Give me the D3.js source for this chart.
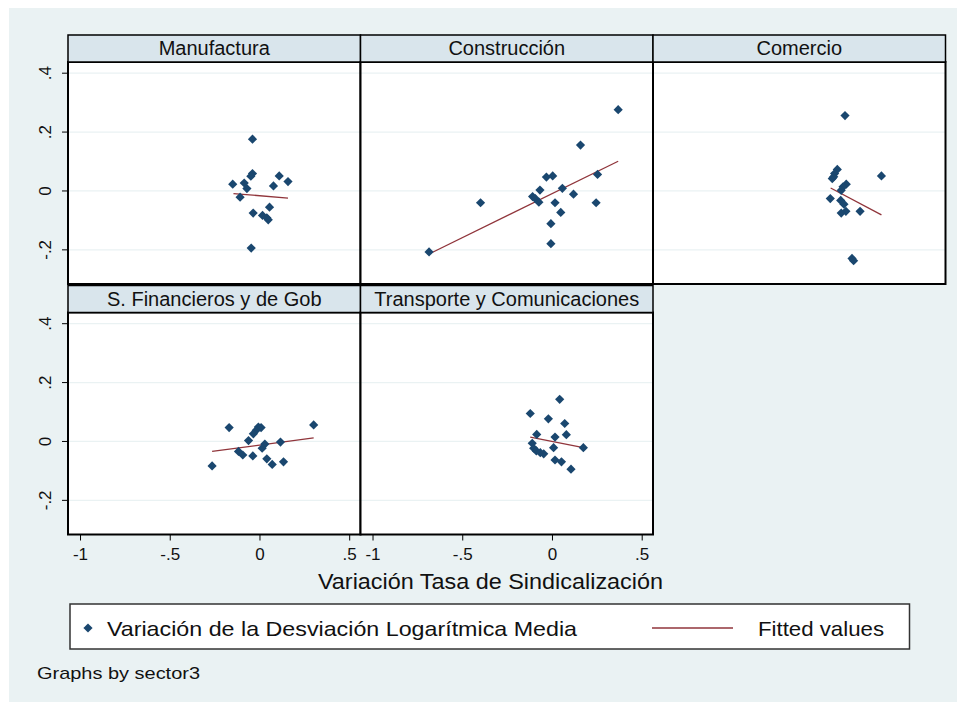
<!DOCTYPE html>
<html>
<head>
<meta charset="utf-8">
<script src="https://cdn.jsdelivr.net/npm/d3@7/dist/d3.min.js"></script>
<style>
  body { margin: 0; background: #fff; }
  text { font-family: "Liberation Sans", Arial, sans-serif; fill: #111; }
</style>
</head>
<body>
<svg id="chart" width="957" height="702"></svg>
<script>
// sector names, in panel order
var sectors = ['Manufactura', 'Construcción', 'Comercio', 'S. Financieros y de Gob', 'Transporte y Comunicaciones'];

// x = variación tasa de sindicalización, y = variación desviación log. media
var manufX = [-0.039, -0.039, -0.048, -0.149, -0.085, -0.070, -0.108, 0.110, 0.159, 0.078, 0.056, -0.035, 0.017, 0.041, 0.049, -0.046];
var manufY = [0.176, 0.059, 0.050, 0.023, 0.027, 0.008, -0.021, 0.051, 0.032, 0.017, -0.055, -0.075, -0.083, -0.091, -0.098, -0.194];

var construX = [0.369, 0.159, 0.254, -0.031, 0.004, -0.067, 0.058, -0.108, -0.093, -0.073, 0.120, -0.398, 0.017, 0.246, 0.049, -0.006, -0.006, -0.685];
var construY = [0.276, 0.156, 0.056, 0.047, 0.051, 0.003, 0.009, -0.019, -0.026, -0.038, -0.011, -0.040, -0.040, -0.040, -0.073, -0.111, -0.179, -0.207];

var comercX = [0.003, -0.040, -0.055, -0.068, -0.060, 0.206, 0.010, -0.008, -0.018, -0.079, -0.021, -0.003, 0.008, -0.018, 0.087, 0.042, 0.051];
var comercY = [0.256, 0.073, 0.059, 0.042, 0.048, 0.051, 0.023, 0.014, 0.002, -0.026, -0.032, -0.045, -0.069, -0.075, -0.069, -0.229, -0.237];

var financX = [-0.169, -0.006, 0.009, -0.018, -0.034, 0.302, -0.061, 0.117, 0.030, 0.015, -0.117, -0.093, -0.037, 0.041, 0.134, 0.071, -0.264];
var financY = [0.047, 0.049, 0.047, 0.038, 0.026, 0.056, 0.003, -0.002, -0.009, -0.023, -0.034, -0.046, -0.049, -0.059, -0.069, -0.078, -0.083];

var transpX = [0.043, -0.121, -0.020, 0.071, 0.080, -0.085, 0.017, -0.110, 0.009, 0.175, -0.102, -0.087, -0.065, -0.046, 0.017, 0.053, 0.106];
var transpY = [0.143, 0.095, 0.077, 0.061, 0.023, 0.024, 0.015, -0.006, -0.021, -0.021, -0.023, -0.032, -0.038, -0.042, -0.063, -0.069, -0.094];

// fitted values: end points [x0, x1] and [y0, y1] per sector
var fitX = [[-0.145, 0.159], [-0.685, 0.369], [-0.077, 0.206], [-0.264, 0.302], [-0.121, 0.175]];
var fitY = [[-0.009, -0.024], [-0.214, 0.101], [0.010, -0.081], [-0.034, 0.012], [0.015, -0.021]];

var xTicks = [-1, -0.5, 0, 0.5];
var yTicks = [0.4, 0.2, 0, -0.2];

var pointsX = [manufX, construX, comercX, financX, transpX];
var pointsY = [manufY, construY, comercY, financY, transpY];

var navy = '#1a476f', maroon = '#90353b', bg = '#eaf2f3';
var colLeft = [68, 360.5, 653], panelW = 292.5;
var headTop = [35, 285.5], headH = 27, plotH = 222;

var stataFmt = function(v) {
  if (v === 0) return '0';
  return String(v).replace('0.', '.');
};

var svg = d3.select('#chart');

svg.append('rect')
    .attr('x', 9).attr('y', 8)
    .attr('width', 948).attr('height', 694)
    .attr('fill', bg);

var x = d3.scaleLinear().domain([-1.067, 0.563]).range([0, panelW]);
var y = d3.scaleLinear().domain([-0.316, 0.438]).range([plotH, 0]);

var diamond = 'M0,-4.6L4.6,0L0,4.6L-4.6,0Z';

sectors.forEach(function(name, i) {
  var col = i % 3, row = Math.floor(i / 3);
  var left = colLeft[col];
  var top = headTop[row] + headH;

  var g = svg.append('g').attr('transform', 'translate(' + left + ',' + top + ')');

  g.append('rect')
      .attr('width', panelW).attr('height', plotH)
      .attr('fill', '#fff');

  g.selectAll('line.grid')
      .data(yTicks)
      .enter().append('line')
      .attr('class', 'grid')
      .attr('x1', 0).attr('x2', panelW)
      .attr('y1', function(d){return y(d);})
      .attr('y2', function(d){return y(d);})
      .attr('stroke', bg).attr('stroke-width', 1.2);

  // fitted line
  g.append('line')
      .attr('x1', x(fitX[i][0])).attr('x2', x(fitX[i][1]))
      .attr('y1', y(fitY[i][0])).attr('y2', y(fitY[i][1]))
      .attr('stroke', maroon).attr('stroke-width', 1.3);

  g.selectAll('path.pt')
      .data(d3.zip(pointsX[i], pointsY[i]))
      .enter().append('path')
      .attr('class', 'pt')
      .attr('d', diamond)
      .attr('transform', function(d){return 'translate(' + x(d[0]) + ',' + y(d[1]) + ')';})
      .attr('fill', navy);

  g.append('rect')
      .attr('width', panelW).attr('height', plotH)
      .attr('fill', 'none').attr('stroke', '#000').attr('stroke-width', 2);

  // header strip
  var h = svg.append('g').attr('transform', 'translate(' + left + ',' + headTop[row] + ')');
  h.append('rect')
      .attr('width', panelW).attr('height', headH)
      .attr('fill', '#d9e5ec').attr('stroke', '#000').attr('stroke-width', 1.5);
  h.append('text')
      .attr('x', panelW / 2).attr('y', 20)
      .attr('text-anchor', 'middle')
      .attr('font-size', 20)
      .text(name);

  if (col === 0) {
    var ya = g.append('g')
        .call(d3.axisLeft(y).tickValues(yTicks).tickSize(6).tickFormat(stataFmt));
    ya.select('.domain').remove();
    ya.selectAll('.tick').attr('transform', null);
    ya.selectAll('.tick line')
        .attr('y1', function(d){return y(d);})
        .attr('y2', function(d){return y(d);});
    ya.selectAll('text')
        .attr('font-size', 17)
        .attr('text-anchor', 'middle')
        .attr('x', 0).attr('y', 0).attr('dy', '0.35em')
        .attr('transform', function(d){return 'translate(-23,' + y(d) + ') rotate(-90)';});
  }

  if (row === 1) {
    var xa = g.append('g')
        .attr('transform', 'translate(0,' + plotH + ')')
        .call(d3.axisBottom(x).tickValues(xTicks).tickSize(6).tickPadding(7).tickFormat(stataFmt));
    xa.select('.domain').remove();
    xa.selectAll('text').attr('font-size', 17);
  }
});

svg.selectAll('.tick text').style('fill', '#111');
svg.selectAll('.tick line').attr('stroke', '#000');

svg.append('text')
    .attr('x', 318).attr('y', 589)
    .attr('font-size', 22)
    .attr('textLength', 345).attr('lengthAdjust', 'spacingAndGlyphs')
    .text('Variación Tasa de Sindicalización');

// legend
var leg = svg.append('g').attr('transform', 'translate(70,604)');
leg.append('rect')
    .attr('width', 839.5).attr('height', 45)
    .attr('fill', '#fff').attr('stroke', '#333').attr('stroke-width', 1.5);
leg.append('path')
    .attr('d', diamond)
    .attr('transform', 'translate(18,24)')
    .attr('fill', navy);
leg.append('text')
    .attr('x', 37).attr('y', 32)
    .attr('font-size', 21)
    .attr('textLength', 470).attr('lengthAdjust', 'spacingAndGlyphs')
    .text('Variación de la Desviación Logarítmica Media');
leg.append('line')
    .attr('x1', 582).attr('x2', 663)
    .attr('y1', 24).attr('y2', 24)
    .attr('stroke', maroon).attr('stroke-width', 1.3);
leg.append('text')
    .attr('x', 688).attr('y', 32)
    .attr('font-size', 21)
    .attr('textLength', 126).attr('lengthAdjust', 'spacingAndGlyphs')
    .text('Fitted values');

svg.append('text')
    .attr('x', 37).attr('y', 679)
    .attr('font-size', 17)
    .attr('textLength', 163).attr('lengthAdjust', 'spacingAndGlyphs')
    .text('Graphs by sector3');
</script>
</body>
</html>
